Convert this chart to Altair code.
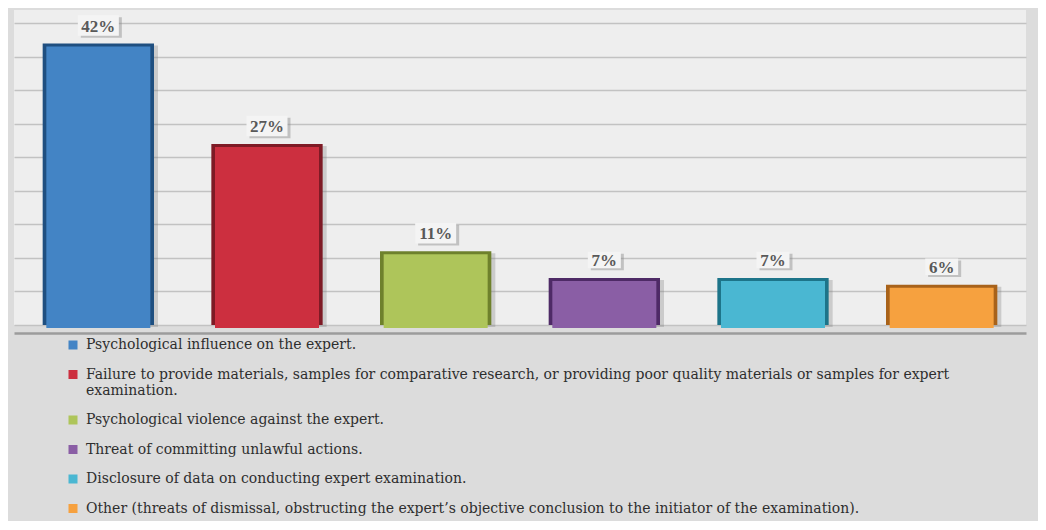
import altair as alt
import pandas as pd

categories = [
    "Psychological influence on the expert.",
    "Failure to provide materials, samples for comparative research, or providing poor quality materials or samples for expert\nexamination.",
    "Psychological violence against the expert.",
    "Threat of committing unlawful actions.",
    "Disclosure of data on conducting expert examination.",
    "Other (threats of dismissal, obstructing the expert\u2019s objective conclusion to the initiator of the examination).",
]
values = [42, 27, 11, 7, 7, 6]
labels = ["42%", "27%", "11%", "7%", "7%", "6%"]
colors = ["#4384C5", "#CC2F3F", "#AEC55A", "#8A5EA5", "#4AB7D2", "#F6A13F"]
edges = ["#1F4F80", "#7E1A25", "#6E812C", "#4E2A66", "#1D7489", "#A8621A"]
grid_ticks = [0, 5, 10, 15, 20, 25, 30, 35, 40, 45]

df = pd.DataFrame({"cat": categories, "val": values, "lbl": labels, "edge": edges})

x_enc = alt.X(
    "cat:N",
    sort=categories,
    scale=alt.Scale(paddingInner=0.34, paddingOuter=0.17),
    axis=alt.Axis(labels=False, ticks=False, title=None, domain=True,
                  domainColor="#9c9c9c", domainWidth=2.5, offset=8, grid=False),
)
y_enc = alt.Y(
    "val:Q",
    scale=alt.Scale(domain=[0, 47], nice=False),
    axis=alt.Axis(values=grid_ticks, labels=False, ticks=False, domain=False,
                  title=None, grid=True, gridColor="#c2c2c2", gridWidth=1.5),
)

base = alt.Chart(df)

shadow = base.mark_bar(color="#7a7a7a", opacity=0.3, xOffset=4, yOffset=2).encode(x=x_enc, y=y_enc)

outer = base.mark_bar().encode(
    x=x_enc, y=y_enc, fill=alt.Fill("edge:N", scale=None, legend=None)
)

inner = base.mark_bar(width=104, yOffset=3, y2Offset=-3).encode(
    x=x_enc,
    y=y_enc,
    color=alt.Color(
        "cat:N",
        sort=categories,
        scale=alt.Scale(domain=categories, range=colors),
        legend=alt.Legend(
            title=None,
            orient="none",
            legendX=52,
            legendY=328,
            direction="vertical",
            symbolType="square",
            symbolSize=81,
            symbolStrokeWidth=0,
            labelFont="DejaVu Serif",
            labelFontSize=14,
            labelColor="#2e2e2e",
            labelLimit=1200,
            labelOffset=6,
            rowPadding=15.5,
            labelExpr="split(datum.label, '\\n')",
        ),
    ),
)

box_shape = "M-1,-0.5H1V0.5H-1Z"

label_base = base.transform_calculate(bw="pow(17 + 8*length(datum.lbl), 2)")

box_shadow = label_base.mark_point(
    shape=box_shape, filled=True, color="#8a8a8a", opacity=0.45, xOffset=3, yOffset=-16
).encode(x=x_enc, y=y_enc, size=alt.Size("bw:Q", scale=None, legend=None))

box = label_base.mark_point(
    shape=box_shape, filled=True, color="#f4f4f4", opacity=1, yOffset=-18
).encode(x=x_enc, y=y_enc, size=alt.Size("bw:Q", scale=None, legend=None))

text = base.mark_text(
    font="Liberation Serif", fontWeight="bold", fontSize=17, color="#595959",
    dy=-17, baseline="middle"
).encode(x=x_enc, y=y_enc, text="lbl:N")

chart = (
    alt.layer(shadow, outer, inner, box_shadow, box, text)
    .properties(
        width=1012,
        height=315,
        padding={"left": 6, "top": 2, "right": 12, "bottom": 196},
        autosize=alt.AutoSizeParams(type="none"),
        background="#dcdcdc",
    )
    .configure_view(stroke=None, fill="#eeeeee")
)

chart.save("out.html", embed_options={"renderer": "svg", "actions": False})
